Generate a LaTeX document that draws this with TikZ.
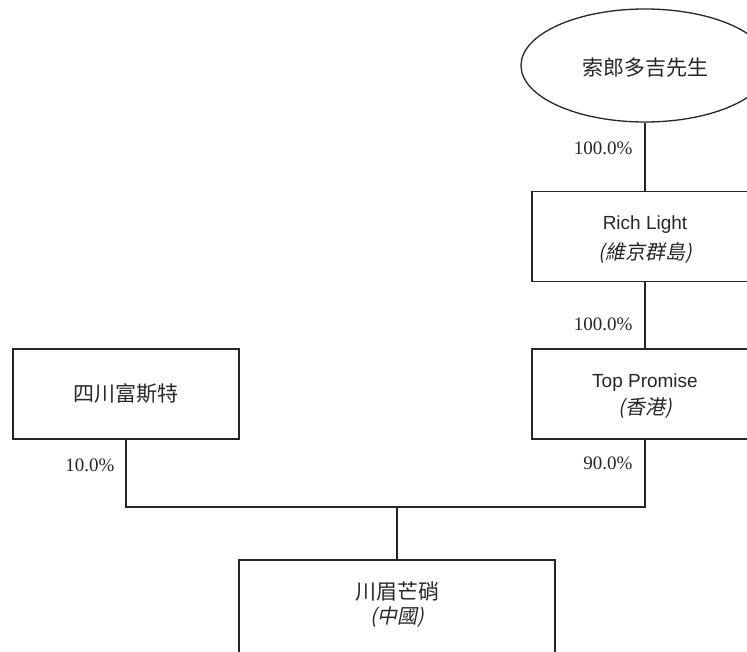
\documentclass[tikz,border=0pt]{standalone}
\usepackage{fontspec}
\setmainfont{Liberation Serif}
\newfontfamily\sansf{Liberation Sans}
\newfontfamily\cjk{Noto Sans CJK TC}
\newfontfamily\cjkit{Noto Sans CJK TC}[FakeSlant=0.2]
\usetikzlibrary{shapes.geometric,calc}
\begin{document}
\begin{tikzpicture}[x=1pt,y=-1pt,
  line width=1.3pt,
  every node/.style={text=black!85},
  ent/.style={draw=black!85,rectangle,inner sep=0pt,minimum width=226pt,minimum height=90pt,align=center},
  own/.style={draw=black!85,ellipse,inner sep=0pt,minimum width=248pt,minimum height=113pt},
  txt/.style={align=center,inner sep=0pt},
  pct/.style={anchor=east,inner sep=0pt,font=\fontsize{19}{19}\selectfont},
  conn/.style={draw=black!85,line width=1.3pt}]
\clip (0,0) rectangle (747,652);
\node[own] (sl) at (645,65.5) {};
\node[txt,font=\cjk\fontsize{21}{21}\selectfont] (slt) at ($(sl.center)+(0,2)$) {索郎多吉先生};
\node[ent] (rl) at (645,236.5) {};
\node[txt] (rlt) at ($(rl.center)+(0,3)$) {{\sansf\fontsize{19}{19}\selectfont Rich Light}\\[8pt]{\cjkit\fontsize{20}{20}\selectfont (維京群島)}};
\node[ent] (tp) at (645,394) {};
\node[txt] (tpt) at ($(tp.center)+(0,2)$) {{\sansf\fontsize{19}{19}\selectfont Top Promise}\\[6pt]{\cjkit\fontsize{20}{20}\selectfont (香港)}};
\node[ent] (sc) at (126,394) {{\cjk\fontsize{21}{21}\selectfont 四川富斯特}};
\node[ent,minimum width=316pt,minimum height=140pt] (cm) at (397,630) {};
\node[txt] (cmt) at ($(cm.north)+(0,45)$) {{\cjk\fontsize{21}{21}\selectfont 川眉芒硝}\\[4pt]{\cjkit\fontsize{20}{20}\selectfont (中國)}};
\coordinate (j) at (397,507);
\draw[conn] (sl.south) -- (rl.north);
\draw[conn] (rl.south) -- (tp.north);
\draw[conn] (sc.south) |- (j) -| (tp.south);
\draw[conn] (j) -- (cm.north);
\node[pct] (p1) at (633,148) {100.0\%};
\node[pct] (p2) at (633,324) {100.0\%};
\node[pct] (p3) at (633,463) {90.0\%};
\node[pct] (p4) at (115,465) {10.0\%};
\end{tikzpicture}
\end{document}
